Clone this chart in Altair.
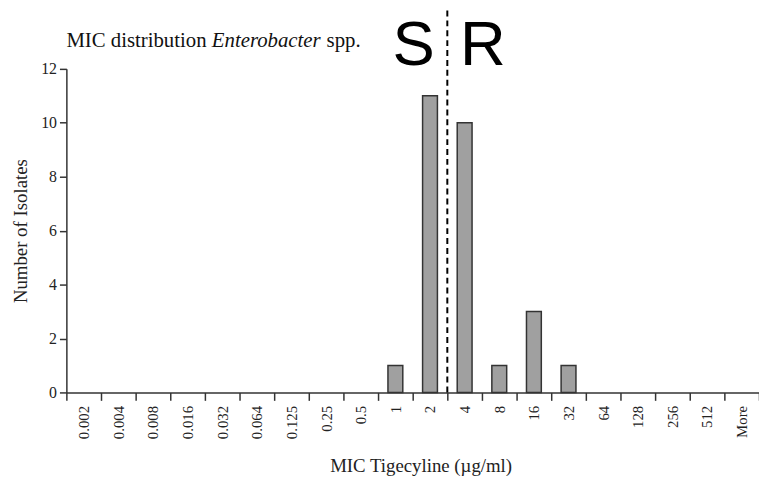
import altair as alt
import pandas as pd

# ---- data ----
categories = ["0.002", "0.004", "0.008", "0.016", "0.032", "0.064", "0.125", "0.25",
              "0.5", "1", "2", "4", "8", "16", "32", "64", "128", "256", "512", "More"]
counts = [0, 0, 0, 0, 0, 0, 0, 0, 0, 1, 11, 10, 1, 3, 1, 0, 0, 0, 0, 0]
breakpoint_bin = "4"          # S / R breakpoint sits at the left edge of this bin
sr_labels = ["S", "R"]
title_parts = ["MIC distribution", "Enterobacter", "spp."]
y_ticks = [0, 2, 4, 6, 8, 10, 12]
x_title = "MIC Tigecyline (µg/ml)"

SERIF = "Liberation Serif"
SANS = "Liberation Sans"

df = pd.DataFrame({"mic": categories, "n": counts})
bp = pd.DataFrame({"mic": [breakpoint_bin]})
first = pd.DataFrame({"mic": [categories[0]]})

xscale = alt.Scale(domain=categories, paddingInner=0, paddingOuter=0)
yscale = alt.Scale(domain=[0, 12], nice=False, zero=True)

x_axis = alt.Axis(title=x_title, tickBand="extent",
                  labelAngle=270, labelAlign="right", labelBaseline="middle",
                  labelFont=SERIF, labelFontSize=15, labelColor="#222222",
                  labelPadding=5, tickSize=8, tickColor="#333333", tickWidth=1.5,
                  domainColor="#333333", domainWidth=1.5,
                  titleFont=SERIF, titleFontSize=19, titleFontWeight="normal",
                  titleColor="#222222", titlePadding=18, titleX=358)

bars = alt.Chart(df).transform_filter("datum.n > 0").mark_bar(
    size=15, color="#a0a0a0", stroke="#333333", strokeWidth=1.5
).encode(
    x=alt.X("mic:N", scale=xscale, sort=categories, axis=x_axis),
    y=alt.Y("n:Q", scale=yscale,
            axis=alt.Axis(title="Number of Isolates", values=y_ticks, grid=False,
                          labelFont=SERIF, labelFontSize=16, labelColor="#222222",
                          labelPadding=3, tickSize=7, tickColor="#333333", tickWidth=1.5,
                          domainColor="#333333", domainWidth=1.5,
                          titleFont=SERIF, titleFontSize=19, titleFontWeight="normal",
                          titleColor="#222222", titlePadding=10)),
)

xpos = alt.X("mic:N", scale=xscale, sort=categories, bandPosition=0, axis=x_axis)

rule = alt.Chart(bp).mark_rule(color="black", strokeWidth=2, strokeDash=[6, 4]).encode(
    x=xpos,
    y=alt.datum(0),
    y2=alt.datum(14.2),
)

s_text = alt.Chart(bp).mark_text(
    text=sr_labels[0], font=SANS, fontSize=64, align="center", baseline="alphabetic",
    dx=-34, color="black"
).encode(x=xpos, y=alt.datum(12.15))

r_text = alt.Chart(bp).mark_text(
    text=sr_labels[1], font=SANS, fontSize=64, align="center", baseline="alphabetic",
    dx=36, color="black"
).encode(x=xpos, y=alt.datum(12.15))

title_layers = []
for txt, dx, style in zip(title_parts, [0, 147, 263], ["normal", "italic", "normal"]):
    title_layers.append(
        alt.Chart(first).mark_text(
            text=txt, font=SERIF, fontSize=21, fontStyle=style, align="left",
            baseline="alphabetic", dx=dx, color="#111111"
        ).encode(x=xpos, y=alt.datum(12.8))
    )

chart = alt.layer(bars, rule, s_text, r_text, *title_layers).properties(
    width=700, height=327,
    autosize=alt.AutoSizeParams(type="none"),
    padding={"left": 59, "top": 59, "right": 0, "bottom": 88},
    background="white",
).configure_view(stroke=None)

chart.save("out.html", embed_options={"renderer": "svg", "actions": False})
